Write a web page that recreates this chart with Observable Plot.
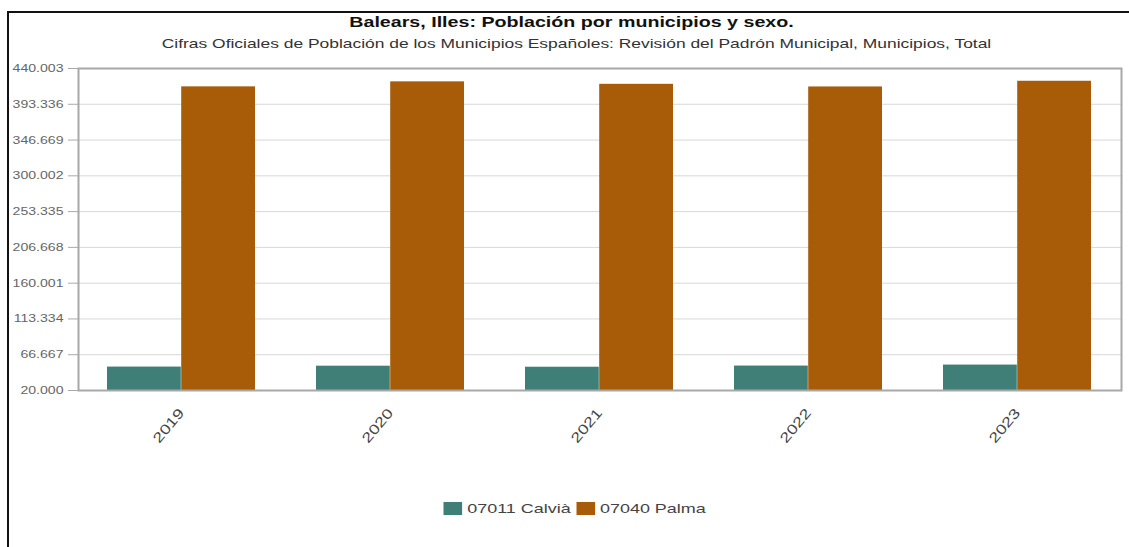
<!DOCTYPE html>
<html><head><meta charset="utf-8">
<script src="https://cdn.jsdelivr.net/npm/d3@7"></script>
<script src="https://cdn.jsdelivr.net/npm/@observablehq/plot@0.6"></script>
<style>
body{margin:0;background:#fff;font-family:"Liberation Sans",Arial,sans-serif;}
#wrap{position:relative;width:1129px;height:547px;overflow:hidden;background:#fff;}
#border{position:absolute;left:7px;top:11px;width:1140px;height:560px;border-left:2px solid #111;border-top:2px solid #111;}
#title{position:absolute;top:13px;left:0;width:1129px;text-align:center;font-weight:bold;font-size:15px;color:#111;transform:translateX(7px) scaleX(1.31);transform-origin:564.5px 0;}
#subtitle{position:absolute;top:36px;left:0;width:1129px;text-align:center;font-size:13px;color:#333;transform:translateX(12px) scaleX(1.34);transform-origin:564.5px 0;}
#chart{position:absolute;left:0;top:0;}
#legend{position:absolute;top:501px;left:0;width:1129px;display:flex;justify-content:center;align-items:center;font-size:13.5px;color:#444;transform:translateX(10px) scaleX(1.33);transform-origin:564.5px 0;}
.item{display:flex;align-items:center;margin:0 2px;}
.sw{width:14px;height:13px;margin-right:4px;}
</style></head>
<body>
<div id="wrap">
  <div id="border"></div>
  <div id="chart"></div>
  <div id="title">Balears, Illes: Población por municipios y sexo.</div>
  <div id="subtitle">Cifras Oficiales de Población de los Municipios Españoles: Revisión del Padrón Municipal, Municipios, Total</div>
  <div id="legend"></div>
</div>
<script>
const years = ["2019", "2020", "2021", "2022", "2023"];
const series = ["07011 Calvià", "07040 Palma"];
const calvia = [50559, 51710, 50363, 51897, 53165];
const palma = [416065, 422587, 419366, 415940, 423350];
const yTicks = [20000, 66667, 113334, 160001, 206668, 253335, 300002, 346669, 393336, 440003];
const colors = ["#3f7f78", "#a85c08"];

const dCalvia = years.map((y, i) => ({year: y, series: series[0], value: calvia[i]}));
const dPalma = years.map((y, i) => ({year: y, series: series[1], value: palma[i]}));
const yBase = yTicks[0];
const fmt = d => d3.format(",")(d).replace(/,/g, ".");

const W = 1129, H = 547, mL = 78, mR = 8, mT = 68, mB = 157;
const pIn = 0.29, pOut = 0.14;
const step = (W - mL - mR) / (years.length - pIn + 2 * pOut);
const half = step * (1 - pIn) / 2;

const chart = Plot.plot({
  width: W,
  height: H,
  marginLeft: mL,
  marginRight: mR,
  marginTop: mT,
  marginBottom: mB,
  style: {fontFamily: "Liberation Sans, Arial, sans-serif", background: "transparent"},
  x: {domain: years, paddingInner: pIn, paddingOuter: pOut, label: null},
  y: {domain: [yTicks[0], yTicks[yTicks.length - 1]]},
  color: {domain: series, range: colors},
  marks: [
    Plot.ruleY(yTicks, {stroke: "#d8d8d8", strokeWidth: 1}),
    Plot.barY(dCalvia, {x: "year", y1: () => yBase, y2: "value", fill: "series", insetRight: half}),
    Plot.barY(dPalma, {x: "year", y1: () => yBase, y2: "value", fill: "series", insetLeft: half}),
    Plot.frame({stroke: "#a8a8a8", strokeWidth: 2}),
    Plot.axisY(yTicks, {tickFormat: fmt, tickSize: 10, tickPadding: 5, stroke: "#aaa", fill: "#666", fontSize: 11, label: null}),
    Plot.axisX({tickRotate: -50, tickSize: 0, tickPadding: 20, fontSize: 14, fill: "#444", label: null})
  ]
});
document.getElementById("chart").appendChild(chart);

// widen glyphs horizontally like the reference rendering
chart.querySelectorAll("text").forEach(t => {
  const L = t.getComputedTextLength();
  if (L > 0) {
    t.setAttribute("textLength", L * 1.28);
    t.setAttribute("lengthAdjust", "spacingAndGlyphs");
  }
});

const legend = document.getElementById("legend");
series.forEach((s, i) => {
  const it = document.createElement("div");
  it.className = "item";
  const sw = document.createElement("div");
  sw.className = "sw";
  sw.style.background = colors[i];
  const t = document.createElement("span");
  t.textContent = s;
  it.appendChild(sw); it.appendChild(t);
  legend.appendChild(it);
});
</script>
</body></html>
